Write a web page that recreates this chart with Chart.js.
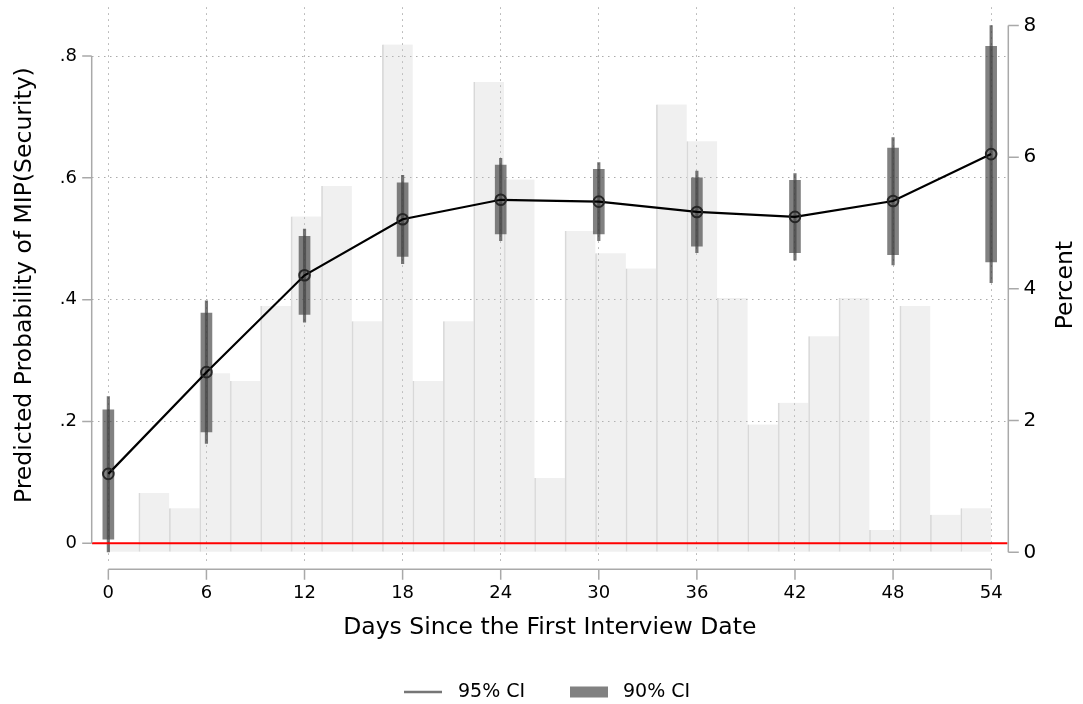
<!DOCTYPE html>
<html>
<head>
<meta charset="utf-8">
<script src="https://cdn.jsdelivr.net/npm/chart.js@4.4.1/dist/chart.umd.min.js"></script>
<style>
html,body{margin:0;padding:0;background:#fff;}
#wrap{width:1083px;height:704px;position:relative;}
</style>
</head>
<body>
<div id="wrap"><canvas id="c" width="1083" height="704"></canvas></div>
<script>
// ---- data ----
const days       = [0, 6, 12, 18, 24, 30, 36, 42, 48, 54];
const estimate   = [0.114, 0.281, 0.440, 0.532, 0.564, 0.561, 0.544, 0.536, 0.562, 0.639];
const ci90Lo     = [0.007, 0.183, 0.376, 0.471, 0.508, 0.508, 0.488, 0.477, 0.474, 0.462];
const ci90Hi     = [0.219, 0.378, 0.504, 0.592, 0.621, 0.614, 0.600, 0.596, 0.649, 0.816];
const ci95Lo     = [-0.014, 0.164, 0.363, 0.459, 0.497, 0.497, 0.477, 0.465, 0.457, 0.428];
const ci95Hi     = [0.241, 0.398, 0.516, 0.604, 0.632, 0.625, 0.611, 0.607, 0.666, 0.850];

// histogram of interview days (percent), 29 bins from day 0 to day 54
const histBinStart = 0;
const histBinEnd   = 54;
const histPercent  = [0.12, 0.90, 0.67, 2.72, 2.60, 3.74, 5.10, 5.56, 3.51, 7.71,
                      2.60, 3.51, 7.14, 5.66, 1.13, 4.88, 4.54, 4.31, 6.80, 6.24,
                      3.86, 1.94, 2.27, 3.28, 3.86, 0.34, 3.74, 0.57, 0.67];

const xTickValues      = [0, 6, 12, 18, 24, 30, 36, 42, 48, 54];
const yLeftTickValues  = [0, 0.2, 0.4, 0.6, 0.8];
const yRightTickValues = [0, 2, 4, 6, 8];

const xTitle      = 'Days Since the First Interview Date';
const yLeftTitle  = 'Predicted Probability of MIP(Security)';
const yRightTitle = 'Percent';
const legendLabels = ['95% CI', '90% CI'];

// ---- build library structures ----
const binWidth = (histBinEnd - histBinStart) / histPercent.length;
const histData = histPercent.map((p, i) => ({ x: histBinStart + (i + 0.5) * binWidth, y: p }));
const ci95Data = days.map((d, i) => ({ x: d, y: [ci95Lo[i], ci95Hi[i]] }));
const ci90Data = days.map((d, i) => ({ x: d, y: [ci90Lo[i], ci90Hi[i]] }));
const estData  = days.map((d, i) => ({ x: d, y: estimate[i] }));

const FONT = "'DejaVu Sans', 'Liberation Sans', sans-serif";
Chart.defaults.font.family = FONT;
Chart.defaults.color = '#000';

const COL95 = 'rgba(60,60,60,0.70)';
const COL90 = 'rgba(70,70,70,0.68)';
const GRID = '#ababab';
const AXIS = '#a9a9a9';

const decor = {
  id: 'decor',
  beforeDraw(chart) {
    const ctx = chart.ctx;
    ctx.save();
    ctx.fillStyle = '#fff';
    ctx.fillRect(0, 0, chart.width, chart.height);
    ctx.restore();
  },
  afterDatasetsDraw(chart) {
    const { ctx, chartArea, scales } = chart;
    const y0 = scales.y.getPixelForValue(0);
    ctx.save();
    ctx.strokeStyle = '#ff0000';
    ctx.lineWidth = 2;
    ctx.beginPath();
    ctx.moveTo(chartArea.left, y0);
    ctx.lineTo(chartArea.right, y0);
    ctx.stroke();
    ctx.restore();
  },
  afterDraw(chart) {
    const { ctx, chartArea, scales } = chart;
    ctx.save();
    ctx.strokeStyle = AXIS;
    ctx.lineWidth = 1.5;
    ctx.lineCap = 'butt';
    // left axis
    const lx = chartArea.left - 0.3;
    ctx.beginPath();
    ctx.moveTo(lx, scales.y.getPixelForValue(yLeftTickValues[0]));
    ctx.lineTo(lx, scales.y.getPixelForValue(yLeftTickValues[yLeftTickValues.length - 1]));
    yLeftTickValues.forEach(v => {
      const p = scales.y.getPixelForValue(v);
      ctx.moveTo(lx, p); ctx.lineTo(lx - 9.5, p);
    });
    ctx.stroke();
    // right axis
    const rx = chartArea.right + 0.8;
    ctx.beginPath();
    ctx.moveTo(rx, scales.yR.getPixelForValue(yRightTickValues[0]));
    ctx.lineTo(rx, scales.yR.getPixelForValue(yRightTickValues[yRightTickValues.length - 1]));
    yRightTickValues.forEach(v => {
      const p = scales.yR.getPixelForValue(v);
      ctx.moveTo(rx, p); ctx.lineTo(rx + 10.5, p);
    });
    ctx.stroke();
    // bottom axis
    const by = chartArea.bottom + 6.3;
    ctx.beginPath();
    ctx.moveTo(scales.x.getPixelForValue(xTickValues[0]), by);
    ctx.lineTo(scales.x.getPixelForValue(xTickValues[xTickValues.length - 1]), by);
    xTickValues.forEach(v => {
      const p = scales.x.getPixelForValue(v);
      ctx.moveTo(p, by); ctx.lineTo(p, by + 10.5);
    });
    ctx.stroke();

    // right axis title, reading upward
    ctx.fillStyle = '#000';
    ctx.font = '23.5px ' + FONT;
    ctx.textAlign = 'center';
    ctx.textBaseline = 'middle';
    ctx.translate(1066, (chartArea.top + chartArea.bottom) / 2);
    ctx.rotate(-Math.PI / 2);
    ctx.fillText(yRightTitle, 0, 0);
    ctx.setTransform(1, 0, 0, 1, 0, 0);

    // legend
    const ly = 692;
    ctx.strokeStyle = COL95;
    ctx.lineWidth = 2.5;
    ctx.beginPath();
    ctx.moveTo(404, ly); ctx.lineTo(442, ly);
    ctx.stroke();
    ctx.fillStyle = COL90;
    ctx.fillRect(570, ly - 5.5, 38, 11);
    ctx.fillStyle = '#000';
    ctx.font = '19px ' + FONT;
    ctx.textAlign = 'left';
    ctx.textBaseline = 'middle';
    ctx.fillText(legendLabels[0], 458, ly);
    ctx.fillText(legendLabels[1], 623, ly);
    ctx.restore();
  }
};

new Chart(document.getElementById('c'), {
  type: 'bar',
  data: {
    datasets: [
      {
        type: 'bar', label: 'Histogram', data: histData,
        xAxisID: 'xh', yAxisID: 'yR',
        backgroundColor: 'rgba(200,200,200,0.27)',
        borderColor: '#dcdcdc',
        borderWidth: { left: 1, right: 0, top: 0, bottom: 0 },
        borderSkipped: false,
        barPercentage: 1, categoryPercentage: 1,
        grouped: false,
        order: 10
      },
      {
        type: 'bar', label: legendLabels[0], data: ci95Data,
        xAxisID: 'x', yAxisID: 'y',
        backgroundColor: COL95, borderWidth: 0,
        barThickness: 2.5, grouped: false, order: 3
      },
      {
        type: 'bar', label: legendLabels[1], data: ci90Data,
        xAxisID: 'x', yAxisID: 'y',
        backgroundColor: COL90, borderWidth: 0,
        barThickness: 11, grouped: false, order: 2
      },
      {
        type: 'line', label: 'Estimate', data: estData,
        xAxisID: 'x', yAxisID: 'y',
        borderColor: '#000', borderWidth: 2.2, tension: 0,
        pointRadius: 5.3, pointBorderWidth: 2,
        pointBorderColor: '#262626', pointBackgroundColor: 'rgba(0,0,0,0)',
        order: 1
      }
    ]
  },
  options: {
    responsive: false,
    animation: false,
    devicePixelRatio: 1,
    events: [],
    layout: { padding: { top: 7, left: 0, right: 0, bottom: 0 } },
    plugins: { legend: { display: false }, tooltip: { enabled: false } },
    scales: {
      x: {
        type: 'linear', position: 'bottom', min: -1, max: 55, offset: false,
        afterBuildTicks: s => { s.ticks = xTickValues.map(v => ({ value: v })); },
        afterFit: s => { s.height = 141; s.paddingLeft = 0; s.paddingRight = 0; },
        grid: { offset: false, color: GRID, lineWidth: 1, drawTicks: false },
        border: { display: false, dash: [1.5, 4.5] },
        ticks: { padding: 19.7, font: { size: 18 }, color: '#000', maxRotation: 0, autoSkip: false,
                 callback: v => String(v) },
        title: { display: true, text: xTitle, font: { size: 23.5 }, color: '#000',
                 padding: { top: 0, bottom: 62 } }
      },
      xh: {
        type: 'linear', display: false, min: -1, max: 55, offset: false,
        afterBuildTicks: s => { s.ticks = [{ value: histBinStart }]; },
        grid: { offset: false }
      },
      y: {
        type: 'linear', position: 'left', min: -0.0323, max: 0.88,
        afterBuildTicks: s => { s.ticks = yLeftTickValues.map(v => ({ value: v })); },
        afterFit: s => { s.width = 92; s.paddingTop = 0; s.paddingBottom = 0; },
        grid: { color: GRID, lineWidth: 1, drawTicks: false },
        border: { display: false, dash: [1.5, 4.5] },
        ticks: { padding: 15, font: { size: 18 }, color: '#000',
                 callback: v => v === 0 ? '0' : v.toFixed(1).replace(/^0/, '') },
        title: { display: true, text: yLeftTitle, font: { size: 23.5 }, color: '#000',
                 padding: { top: 10.9, bottom: 0 } }
      },
      yR: {
        type: 'linear', position: 'right', min: -0.1624, max: 8.275,
        afterBuildTicks: s => { s.ticks = yRightTickValues.map(v => ({ value: v })); },
        afterFit: s => { s.width = 75.5; s.paddingTop = 0; s.paddingBottom = 0; },
        grid: { drawOnChartArea: false, drawTicks: false },
        border: { display: false },
        ticks: { padding: 16, font: { size: 20 }, color: '#000', callback: v => String(v) }
      }
    }
  },
  plugins: [decor]
});
</script>
</body>
</html>
